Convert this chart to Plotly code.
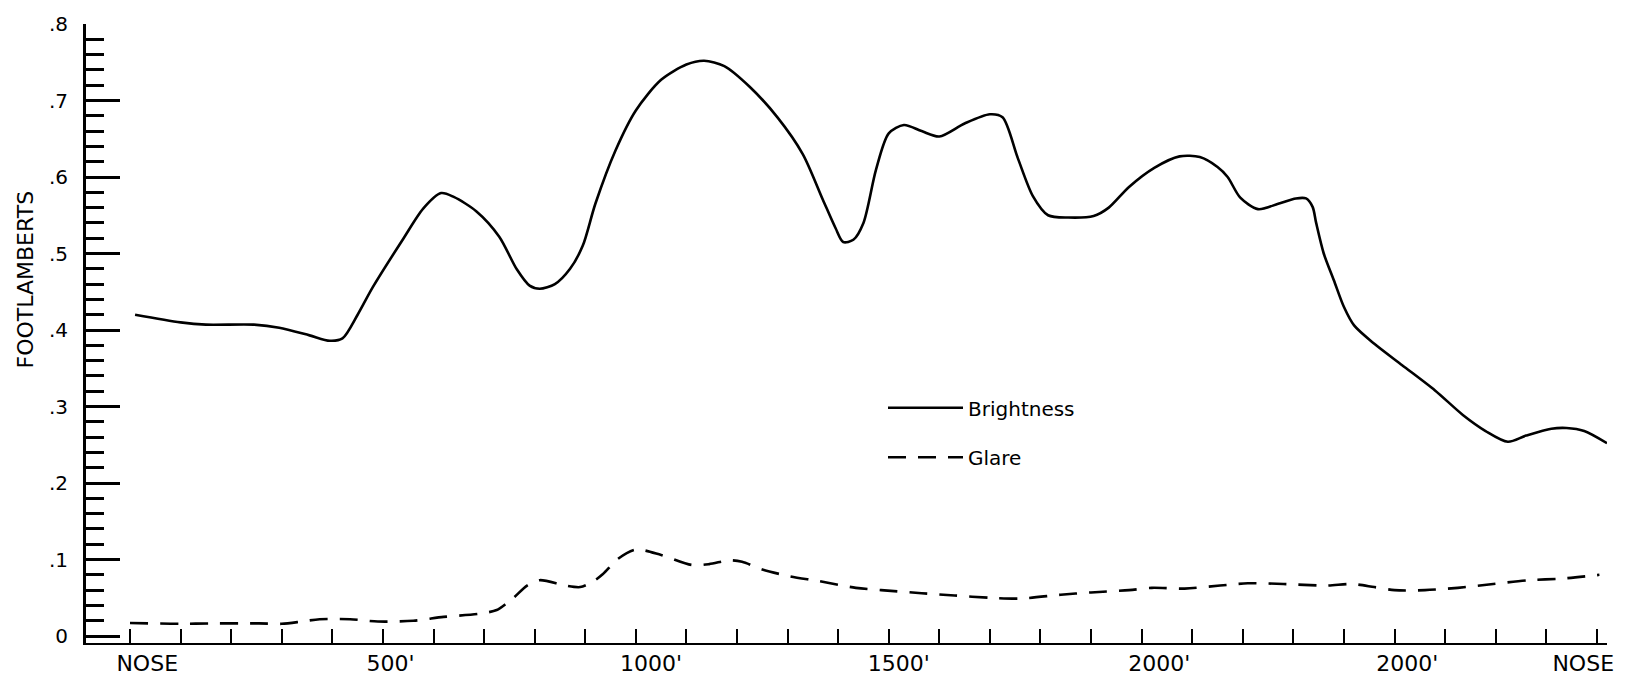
import plotly.graph_objects as go

# Distance along the run in hundreds of feet, measured from the nose
bright_x = [0.1, 1.0, 1.5, 2.45, 2.95, 3.55, 3.95, 4.2, 4.5, 4.8, 5.4, 5.8, 6.15, 6.4,
            6.85, 7.3, 7.65, 7.9, 8.1, 8.4, 8.7, 8.95, 9.2, 9.6, 10.0, 10.5, 11.0, 11.35,
            11.75, 12.25, 12.8, 13.3, 13.7, 13.95, 14.1, 14.3, 14.5, 14.75, 15.0, 15.3,
            15.65, 16.0, 16.5, 17.0, 17.25, 17.55, 17.85, 18.15, 18.55, 19.05, 19.35,
            19.75, 20.25, 20.75, 21.15, 21.5, 21.7, 21.95, 22.3, 22.7, 23.05, 23.25,
            23.38, 23.45, 23.6, 23.8, 24.0, 24.2, 24.6, 25.15, 25.8, 26.35, 26.8, 27.24,
            27.6, 28.1, 28.4, 28.75, 29.2]
bright_y = [0.42, 0.41, 0.407, 0.407, 0.403, 0.393, 0.386, 0.389, 0.42, 0.456, 0.519, 0.559,
            0.579, 0.574, 0.555, 0.522, 0.479, 0.458, 0.454, 0.46, 0.48, 0.51, 0.565, 0.635,
            0.687, 0.727, 0.747, 0.752, 0.745, 0.718, 0.678, 0.63, 0.57, 0.533, 0.515, 0.518,
            0.54, 0.61, 0.657, 0.668, 0.66, 0.653, 0.67, 0.682, 0.678, 0.625, 0.575, 0.55,
            0.547, 0.549, 0.56, 0.587, 0.612, 0.627, 0.626, 0.613, 0.6, 0.573, 0.558, 0.565,
            0.572, 0.572, 0.561, 0.54, 0.5, 0.465, 0.43, 0.406, 0.382, 0.354, 0.321, 0.289,
            0.268, 0.254, 0.262, 0.271, 0.272, 0.268, 0.252]

glare_x = [0.0, 1.0, 1.6, 2.55, 3.0, 3.4, 3.75, 4.35, 4.9, 5.6, 6.2, 6.9, 7.25, 7.45, 7.6,
           7.85, 8.1, 8.6, 8.9, 9.15, 9.35, 9.65, 10.0, 10.5, 11.1, 11.45, 11.85, 12.1, 12.5,
           13.05, 13.6, 14.35, 14.85, 15.65, 16.3, 17.0, 17.6, 18.4, 19.0, 19.75, 20.2,
           20.85, 21.55, 22.1, 22.8, 23.65, 24.15, 24.6, 25.0, 25.6, 26.25, 26.95, 27.65,
           28.3, 29.05]
glare_y = [0.017, 0.016, 0.0165, 0.0165, 0.016, 0.019, 0.022, 0.022, 0.019, 0.02, 0.025,
           0.029, 0.034, 0.043, 0.051, 0.066, 0.073, 0.066, 0.064, 0.071, 0.081, 0.101, 0.113,
           0.106, 0.093, 0.094, 0.099, 0.097, 0.087, 0.078, 0.072, 0.063, 0.06, 0.056, 0.053,
           0.05, 0.049, 0.054, 0.057, 0.06, 0.063, 0.062, 0.066, 0.069, 0.068, 0.066, 0.068,
           0.064, 0.06, 0.06, 0.063, 0.068, 0.073, 0.075, 0.08]

# Station labels along the bottom
x_label_pos = [0.34, 5.15, 10.3, 15.2, 20.35, 25.25, 28.73]
x_label_text = ["NOSE", "500'", "1000'", "1500'", "2000'", "2000'", "NOSE"]

y_tick_vals = [0, 0.1, 0.2, 0.3, 0.4, 0.5, 0.6, 0.7, 0.8]
y_tick_text = ["0", ".1", ".2", ".3", ".4", ".5", ".6", ".7", ".8"]

X_RANGE = [-0.87, 29.2]
Y_RANGE = [-0.0091, 0.8]
FONT = "DejaVu Sans"

fig = go.Figure()

fig.add_trace(go.Scatter(
    x=bright_x, y=bright_y, name="Brightness", mode="lines", showlegend=True,
    line=dict(color="black", width=2.6, shape="spline", smoothing=0.8),
    legend="legend",
))
fig.add_trace(go.Scatter(
    x=glare_x, y=glare_y, name="Glare", mode="lines", showlegend=True,
    line=dict(color="black", width=2.6, dash="18px,12px", shape="spline", smoothing=0.8),
    xaxis="x2", legend="legend2",
))

legend_style = dict(
    xanchor="left", yanchor="middle", bgcolor="rgba(0,0,0,0)", itemwidth=75,
    font=dict(family=FONT, size=20, color="black"),
)

fig.update_layout(
    width=1626, height=689,
    margin=dict(l=86, r=16, t=20, b=46),
    paper_bgcolor="white", plot_bgcolor="white",
    font=dict(family=FONT, color="black"),
    showlegend=True,
    xaxis=dict(
        range=X_RANGE, showgrid=False, zeroline=False,
        showline=True, linecolor="black", linewidth=2,
        tickmode="linear", tick0=0, dtick=1,
        ticks="inside", ticklen=14, tickwidth=2, tickcolor="black",
        showticklabels=False,
    ),
    xaxis2=dict(
        range=X_RANGE, overlaying="x", anchor="y", side="bottom",
        showgrid=False, zeroline=False, showline=False, ticks="",
        tickmode="array", tickvals=x_label_pos, ticktext=x_label_text,
        tickfont=dict(family=FONT, size=22, color="black"),
        ticklabelstandoff=5,
    ),
    yaxis=dict(
        range=Y_RANGE, showgrid=False, zeroline=False,
        showline=True, linecolor="black", linewidth=3,
        tickmode="array", tickvals=y_tick_vals, ticktext=y_tick_text,
        ticks="inside", ticklen=34, tickwidth=2.5, tickcolor="black",
        tickfont=dict(family=FONT, size=20, color="black"),
        ticklabelstandoff=11,
        minor=dict(tickmode="linear", tick0=0, dtick=0.02, ticks="inside",
                   ticklen=18, tickwidth=2.5, tickcolor="black", showgrid=False),
    ),
    legend=dict(x=0.524, y=0.38, **legend_style),
    legend2=dict(x=0.524, y=0.30, **legend_style),
    annotations=[dict(
        text="FOOTLAMBERTS", textangle=-90, showarrow=False,
        xref="paper", yref="paper", x=-0.040, y=0.5875,
        xanchor="center", yanchor="middle",
        font=dict(family=FONT, size=22, color="black"),
    )],
)

fig.write_html("out.html")
